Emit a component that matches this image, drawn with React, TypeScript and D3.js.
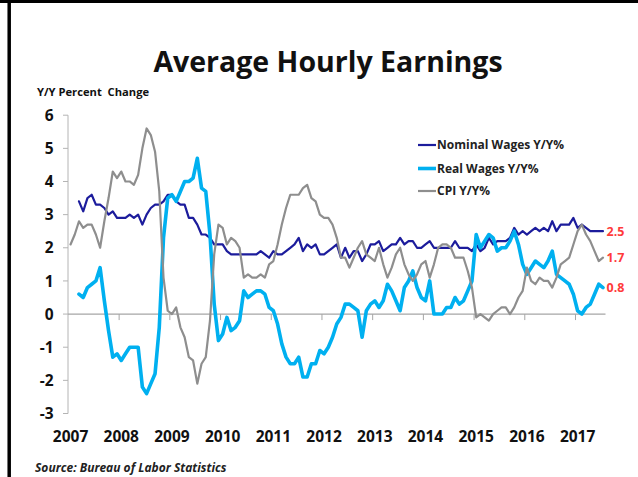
import React, { useEffect, useRef } from "react"
import * as d3 from "d3"

// month index 0 = Jan 2007
const years = [2007, 2008, 2009, 2010, 2011, 2012, 2013, 2014, 2015, 2016, 2017]
const yTicks = [6, 5, 4, 3, 2, 1, 0, -1, -2, -3]

// CPI Y/Y%, Jan 2007 - Jul 2017
const cpiStart = 0
const cpi = [
  2.1, 2.4, 2.8, 2.6, 2.7, 2.7, 2.4, 2.0, 2.8, 3.5, 4.3, 4.1,
  4.3, 4.0, 4.0, 3.9, 4.2, 5.0, 5.6, 5.4, 4.9, 3.7, 1.1, 0.1,
  0.0, 0.2, -0.4, -0.7, -1.3, -1.4, -2.1, -1.5, -1.3, -0.2, 1.8, 2.7,
  2.6, 2.1, 2.3, 2.2, 2.0, 1.1, 1.2, 1.1, 1.1, 1.2, 1.1, 1.5,
  1.6, 2.1, 2.7, 3.2, 3.6, 3.6, 3.6, 3.8, 3.9, 3.5, 3.4, 3.0,
  2.9, 2.9, 2.7, 2.3, 1.7, 1.7, 1.4, 1.7, 2.0, 2.2, 1.8, 1.7,
  1.6, 2.0, 1.5, 1.1, 1.4, 1.8, 2.0, 1.5, 1.2, 1.0, 1.2, 1.5,
  1.6, 1.1, 1.5, 2.0, 2.1, 2.1, 2.0, 1.7, 1.7, 1.7, 1.3, 0.8,
  -0.1, 0.0, -0.1, -0.2, 0.0, 0.1, 0.2, 0.2, 0.0, 0.2, 0.5, 0.7,
  1.4, 1.0, 0.9, 1.1, 1.0, 1.0, 0.8, 1.1, 1.5, 1.6, 1.7, 2.1,
  2.5, 2.7, 2.4, 2.2, 1.9, 1.6, 1.7,
]

// wages, Mar 2007 - Jul 2017
const wageStart = 2
const nominal = [
  3.4, 3.1, 3.5, 3.6, 3.3, 3.3, 3.2, 3.0, 3.1, 2.9,
  2.9, 2.9, 3.0, 2.9, 3.0, 2.7, 3.0, 3.2, 3.3, 3.3, 3.4, 3.6,
  3.6, 3.4, 3.3, 3.3, 2.9, 2.9, 2.7, 2.4, 2.4, 2.3, 2.1, 2.1,
  2.1, 1.9, 1.8, 1.8, 1.8, 1.8, 1.8, 1.8, 1.8, 1.9, 1.8, 1.7,
  1.9, 1.8, 1.8, 1.9, 2.0, 2.1, 2.3, 1.9, 2.1, 2.0, 2.1, 1.8,
  1.8, 1.9, 2.0, 2.1, 1.7, 2.0, 1.7, 1.9, 1.9, 1.6, 1.8, 2.1,
  2.1, 2.2, 1.9, 2.0, 2.1, 2.1, 2.3, 2.1, 2.2, 2.2, 2.0, 2.0,
  2.1, 2.2, 2.0, 2.0, 2.0, 2.0, 2.0, 2.2, 2.0, 2.0, 2.0, 1.9,
  2.1, 1.9, 2.0, 2.3, 2.1, 2.2, 2.2, 2.2, 2.3, 2.6, 2.4, 2.5,
  2.4, 2.5, 2.6, 2.5, 2.6, 2.5, 2.8, 2.5, 2.7, 2.7, 2.7, 2.9,
  2.6, 2.7, 2.6, 2.5, 2.5, 2.5, 2.5,
]
const real = [
  0.6, 0.5, 0.8, 0.9, 1.0, 1.4, 0.4, -0.5, -1.3, -1.2,
  -1.4, -1.2, -1.0, -1.0, -1.0, -2.2, -2.4, -2.1, -1.8, -0.4, 2.3, 3.5,
  3.6, 3.4, 3.7, 4.0, 4.0, 4.1, 4.7, 3.8, 3.7, 2.4, 0.3, -0.8,
  -0.6, -0.1, -0.5, -0.4, -0.2, 0.7, 0.5, 0.6, 0.7, 0.7, 0.6, 0.2,
  0.1, -0.3, -0.9, -1.3, -1.5, -1.5, -1.3, -1.9, -1.9, -1.5, -1.5, -1.1,
  -1.2, -1.0, -0.7, -0.3, -0.1, 0.3, 0.3, 0.2, 0.1, -0.7, 0.1, 0.3,
  0.4, 0.2, 0.4, 0.9, 0.7, 0.4, 0.1, 0.8, 1.0, 1.3, 0.8, 0.5,
  0.4, 1.0, 0.0, 0.0, 0.0, 0.2, 0.2, 0.5, 0.3, 0.4, 0.7, 1.0,
  2.4, 2.0, 2.2, 2.4, 2.3, 1.9, 2.0, 2.0, 2.2, 2.5, 2.1, 1.5,
  1.2, 1.4, 1.6, 1.5, 1.4, 1.6, 1.9, 1.2, 1.1, 1.0, 0.9, 0.6,
  0.1, 0.0, 0.2, 0.3, 0.6, 0.9, 0.8,
]

const series = [
  { name: "Nominal Wages Y/Y%", values: nominal, start: wageStart, color: "#1c1c9c", width: 2.2 },
  { name: "Real Wages Y/Y%", values: real, start: wageStart, color: "#00b0f0", width: 3.6 },
  { name: "CPI Y/Y%", values: cpi, start: cpiStart, color: "#8e8e8e", width: 2.2 },
]

const W = 638
const H = 477
const font = "'Open Sans', 'DejaVu Sans', sans-serif"

export default function App() {
  const ref = useRef<SVGSVGElement>(null)

  useEffect(() => {
    const svg = d3.select(ref.current)
    svg.selectAll("*").remove()

    const x = d3.scaleLinear().domain([-0.6, 126.6]).range([68, 605.5])
    const y = d3.scaleLinear().domain([-3, 6]).range([413.5, 115.2])

    svg.append("rect").attr("width", W).attr("height", H).attr("fill", "#fff")

    // frame
    svg.append("line").attr("x1", 0).attr("x2", W).attr("y1", 1.5).attr("y2", 1.5)
      .attr("stroke", "#000").attr("stroke-width", 3)
    svg.append("line").attr("x1", 9.2).attr("x2", 9.2).attr("y1", 0).attr("y2", H)
      .attr("stroke", "#000").attr("stroke-width", 3.5)

    // title
    svg.append("text")
      .attr("x", 328).attr("y", 72)
      .attr("text-anchor", "middle")
      .attr("font-family", font).attr("font-weight", 700).attr("font-size", 28.5)
      .attr("fill", "#111")
      .text("Average Hourly Earnings")

    svg.append("text")
      .attr("x", 37).attr("y", 96)
      .attr("font-family", font).attr("font-weight", 700).attr("font-size", 11.2)
      .attr("fill", "#111")
      .style("white-space", "pre")
      .text("Y/Y Percent  Change")

    // y axis
    const gy = svg.append("g")
    gy.append("line").attr("x1", 68).attr("x2", 68).attr("y1", y(6)).attr("y2", y(-3))
      .attr("stroke", "#b4b4b4").attr("stroke-width", 1)
    gy.selectAll("line.tick").data(yTicks).enter().append("line")
      .attr("class", "tick")
      .attr("x1", 63).attr("x2", 68)
      .attr("y1", (d) => y(d)).attr("y2", (d) => y(d))
      .attr("stroke", "#b4b4b4")
    gy.selectAll("text").data(yTicks).enter().append("text")
      .attr("x", 53.5).attr("y", (d) => y(d))
      .attr("dy", "0.36em")
      .attr("text-anchor", "end")
      .attr("font-family", font).attr("font-weight", 700).attr("font-size", 15.5)
      .attr("fill", "#111")
      .text((d) => d)

    // zero line + year ticks
    svg.append("line").attr("x1", 68).attr("x2", x(126.6)).attr("y1", y(0)).attr("y2", y(0))
      .attr("stroke", "#a6a6a6").attr("stroke-width", 1.2)
    svg.selectAll("line.xtick").data(years.slice(1)).enter().append("line")
      .attr("class", "xtick")
      .attr("x1", (d) => x((d - 2007) * 12 - 0.5)).attr("x2", (d) => x((d - 2007) * 12 - 0.5))
      .attr("y1", y(0)).attr("y2", y(0) + 6)
      .attr("stroke", "#a6a6a6")
    svg.selectAll("text.year").data(years).enter().append("text")
      .attr("class", "year")
      .attr("x", (d) => x((d - 2007) * 12))
      .attr("y", 442)
      .attr("text-anchor", "middle")
      .attr("font-family", font).attr("font-weight", 700).attr("font-size", 15.5)
      .attr("fill", "#111")
      .text((d) => d)

    // lines
    const line = d3.line<number>()
    series.forEach((s) => {
      line.x((_, i) => x(s.start + i)).y((d) => y(d))
      svg.append("path")
        .datum(s.values)
        .attr("fill", "none")
        .attr("stroke", s.color)
        .attr("stroke-width", s.width)
        .attr("stroke-linejoin", "round")
        .attr("stroke-linecap", "round")
        .attr("d", line)
    })

    // end labels
    series.forEach((s) => {
      const last = s.values[s.values.length - 1]
      svg.append("text")
        .attr("x", 606.5).attr("y", y(last))
        .attr("dy", "0.36em")
        .attr("font-family", font).attr("font-weight", 700).attr("font-size", 12.5)
        .attr("fill", "#ff3b3b")
        .text(last.toFixed(1))
    })

    // legend
    const lg = svg.append("g")
    const legendY = [145, 168.5, 191]
    series.forEach((s, i) => {
      lg.append("line")
        .attr("x1", 418).attr("x2", 436).attr("y1", legendY[i]).attr("y2", legendY[i])
        .attr("stroke", s.color).attr("stroke-width", s.width)
      lg.append("text")
        .attr("x", 437).attr("y", legendY[i]).attr("dy", "0.36em")
        .attr("font-family", font).attr("font-weight", 700).attr("font-size", 12)
        .attr("fill", "#222")
        .text(s.name)
    })

    // source
    svg.append("text")
      .attr("x", 35).attr("y", 472)
      .attr("font-family", font).attr("font-weight", 700).attr("font-style", "italic")
      .attr("font-size", 12)
      .attr("fill", "#222")
      .text("Source: Bureau of Labor Statistics")
  }, [])

  return (
    <svg
      ref={ref}
      width={W}
      height={H}
      style={{ position: "absolute", left: 0, top: 0, display: "block" }}
    />
  )
}
